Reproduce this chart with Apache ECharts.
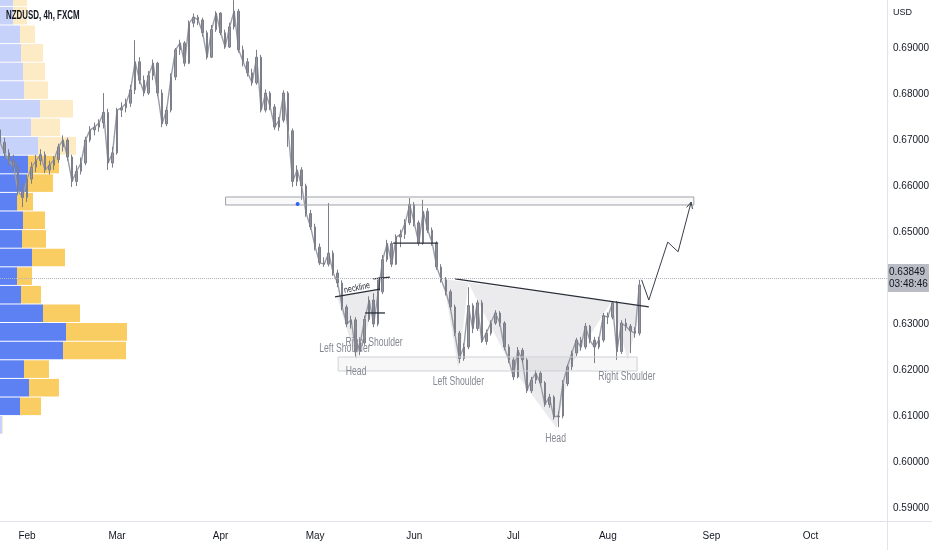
<!DOCTYPE html>
<html><head><meta charset="utf-8">
<script src="https://cdn.jsdelivr.net/npm/echarts@6/dist/echarts.min.js"></script>
<style>html,body{margin:0;padding:0;background:#fff}#chart{width:932px;height:550px}</style>
</head><body><div id="chart"></div>
<script>
// ---------- data ----------
const symbolTitle = 'NZDUSD, 4h, FXCM';
const currencyLabel = 'USD';
const firstTradingDay = '2022-01-24';
const axisTradingDays = 198;
const monthLabels = ['Jan','Feb','Mar','Apr','May','Jun','Jul','Aug','Sep','Oct','Nov','Dec'];
const priceMin = 0.59, priceMax = 0.700435, priceStep = 0.01;
// daily candles [open, close, low, high] from 2022-01-24 (weekdays)
const candles = [
[0.6722,0.6695,0.6680,0.6730],[0.6695,0.6672,0.6660,0.6705],[0.6672,0.6655,0.6645,0.6680],[0.6655,0.6641,0.6630,0.6668],
[0.6641,0.6590,0.6580,0.6650],[0.6590,0.6575,0.6554,0.6605],[0.6575,0.6615,0.6565,0.6625],[0.6615,0.6641,0.6605,0.6652],
[0.6641,0.6655,0.6630,0.6668],[0.6655,0.6668,0.6645,0.6680],[0.6668,0.6635,0.6628,0.6675],[0.6635,0.6645,0.6625,0.6655],
[0.6645,0.6657,0.6635,0.6665],[0.6657,0.6685,0.6650,0.6692],[0.6685,0.6700,0.6675,0.6710],[0.6700,0.6663,0.6655,0.6705],
[0.6663,0.6610,0.6598,0.6668],[0.6610,0.6632,0.6600,0.6645],[0.6632,0.6650,0.6625,0.6662],[0.6650,0.6700,0.6645,0.6707],
[0.6700,0.6722,0.6695,0.6730],[0.6722,0.6728,0.6710,0.6738],[0.6728,0.6737,0.6718,0.6745],[0.6737,0.6760,0.6725,0.6802],
[0.6760,0.6650,0.6635,0.6768],[0.6650,0.6672,0.6640,0.6685],[0.6672,0.6765,0.6668,0.6770],[0.6765,0.6770,0.6750,0.6782],
[0.6770,0.6780,0.6760,0.6790],[0.6780,0.6809,0.6772,0.6820],[0.6809,0.6870,0.6800,0.6917],[0.6870,0.6830,0.6822,0.6880],
[0.6830,0.6802,0.6795,0.6840],[0.6802,0.6840,0.6798,0.6850],[0.6840,0.6867,0.6830,0.6875],[0.6867,0.6802,0.6795,0.6870],
[0.6802,0.6735,0.6728,0.6810],[0.6735,0.6765,0.6730,0.6772],[0.6765,0.6837,0.6760,0.6845],[0.6837,0.6896,0.6830,0.6900],
[0.6896,0.6911,0.6885,0.6918],[0.6911,0.6867,0.6860,0.6915],[0.6867,0.6954,0.6865,0.6960],[0.6954,0.6967,0.6945,0.6975],
[0.6967,0.6961,0.6950,0.6972],[0.6961,0.6933,0.6925,0.6966],[0.6933,0.6880,0.6875,0.6938],[0.6880,0.6940,0.6878,0.6950],
[0.6940,0.6976,0.6935,0.6980],[0.6976,0.6933,0.6928,0.6978],[0.6933,0.6902,0.6898,0.6940],[0.6902,0.6946,0.6900,0.6955],
[0.6946,0.6980,0.6940,0.7004],[0.6980,0.6896,0.6890,0.6985],[0.6896,0.6870,0.6860,0.6905],[0.6870,0.6846,0.6838,0.6878],
[0.6846,0.6824,0.6818,0.6855],[0.6824,0.6880,0.6820,0.6896],[0.6880,0.6765,0.6760,0.6885],[0.6765,0.6802,0.6760,0.6810],
[0.6802,0.6772,0.6765,0.6806],[0.6772,0.6728,0.6722,0.6778],[0.6728,0.6743,0.6720,0.6750],[0.6743,0.6802,0.6738,0.6808],
[0.6802,0.6720,0.6685,0.6806],[0.6720,0.6610,0.6598,0.6725],[0.6610,0.6635,0.6600,0.6645],[0.6635,0.6600,0.6570,0.6641],
[0.6600,0.6540,0.6533,0.6605],[0.6540,0.6511,0.6505,0.6548],[0.6511,0.6467,0.6460,0.6518],[0.6467,0.6433,0.6428,0.6475],
[0.6433,0.6430,0.6424,0.6445],[0.6430,0.6454,0.6425,0.6563],[0.6454,0.6411,0.6405,0.6460],[0.6411,0.6389,0.6380,0.6418],
[0.6389,0.6337,0.6330,0.6395],[0.6337,0.6300,0.6293,0.6342],[0.6300,0.6309,0.6290,0.6318],[0.6309,0.6240,0.6228,0.6315],
[0.6240,0.6259,0.6232,0.6268],[0.6259,0.6310,0.6255,0.6318],[0.6310,0.6352,0.6305,0.6360],[0.6352,0.6300,0.6293,0.6367],
[0.6300,0.6370,0.6295,0.6396],[0.6370,0.6440,0.6365,0.6450],[0.6440,0.6475,0.6435,0.6483],[0.6475,0.6430,0.6424,0.6480],
[0.6430,0.6489,0.6428,0.6495],[0.6489,0.6495,0.6467,0.6505],[0.6495,0.6520,0.6485,0.6528],[0.6520,0.6560,0.6515,0.6574],
[0.6560,0.6520,0.6512,0.6565],[0.6520,0.6476,0.6470,0.6525],[0.6476,0.6545,0.6472,0.6570],[0.6545,0.6504,0.6498,0.6552],
[0.6504,0.6476,0.6470,0.6510],[0.6476,0.6424,0.6418,0.6480],[0.6424,0.6396,0.6390,0.6430],[0.6396,0.6370,0.6362,0.6402],
[0.6370,0.6337,0.6330,0.6375],[0.6337,0.6280,0.6274,0.6342],[0.6280,0.6225,0.6215,0.6285],[0.6225,0.6250,0.6220,0.6258],
[0.6250,0.6340,0.6245,0.6380],[0.6340,0.6290,0.6280,0.6345],[0.6290,0.6346,0.6285,0.6352],[0.6346,0.6262,0.6259,0.6352],
[0.6262,0.6280,0.6255,0.6288],[0.6280,0.6302,0.6275,0.6308],[0.6302,0.6324,0.6298,0.6330],[0.6324,0.6302,0.6295,0.6328],
[0.6302,0.6250,0.6243,0.6306],[0.6250,0.6222,0.6215,0.6256],[0.6222,0.6185,0.6178,0.6228],[0.6185,0.6243,0.6182,0.6250],
[0.6243,0.6222,0.6215,0.6248],[0.6222,0.6155,0.6150,0.6226],[0.6155,0.6178,0.6150,0.6185],[0.6178,0.6193,0.6170,0.6200],
[0.6193,0.6172,0.6165,0.6198],[0.6172,0.6125,0.6120,0.6176],[0.6125,0.6141,0.6118,0.6148],[0.6141,0.6098,0.6092,0.6145],
[0.6098,0.6100,0.6076,0.6110],[0.6100,0.6170,0.6095,0.6178],[0.6170,0.6207,0.6165,0.6212],[0.6207,0.6237,0.6200,0.6242],
[0.6237,0.6265,0.6230,0.6270],[0.6265,0.6250,0.6242,0.6272],[0.6250,0.6295,0.6245,0.6302],[0.6295,0.6265,0.6258,0.6298],
[0.6265,0.6250,0.6215,0.6272],[0.6250,0.6265,0.6245,0.6272],[0.6265,0.6318,0.6260,0.6324],[0.6318,0.6315,0.6300,0.6325],
[0.6315,0.6346,0.6310,0.6350],[0.6346,0.6240,0.6222,0.6350],[0.6240,0.6302,0.6235,0.6308],[0.6302,0.6295,0.6285,0.6312],
[0.6295,0.6285,0.6237,0.6300],[0.6285,0.6280,0.6270,0.6293],[0.6280,0.63849,0.6275,0.6396]
];
const lastPrice = 0.63849;
const barCountdown = '03:48:46';

// volume profile (bottom -> top)
const vpEdges = [0.60604,0.61009,0.61413,0.61817,0.62222,0.62626,0.63030,0.63435,0.63839,0.64243,0.64648,0.65052,0.65457,
                 0.65861,0.66265,0.66670,0.67074,0.67478,0.67883,0.68287,0.68691,0.69096,0.69500,0.69904,0.70300];
const vpUpVolume   = [2,20,29,24,63,66,43,21,17,32,22,23,17,26,28,38,31,40,24,23,21,20,13,13];
const vpDownVolume = [1,21,30,25,63,61,37,20,15,33,24,22,16,27,31,38,29,33,24,22,22,15,14,14];
const vpValueAreaLow = 0.61009, vpValueAreaHigh = 0.66670;

// drawings, in [trading-day index, price]
const shadePolygons = [
  [[74.8,0.6361],[84.4,0.6376],[79.1,0.6222]],
  [[98.4,0.6398],[101.8,0.6204],[104.0,0.6389],[113.8,0.6204],[123.6,0.6074],[126.7,0.6209],[135.9,0.6350],[139.4,0.6222],[142.5,0.6339]]
];
const trendLines = [
  [[101.1,0.6398],[144.1,0.6337]],
  [[74.4,0.6359],[84.4,0.6376]],
  [[82.9,0.6398],[86.6,0.6402]],
  [[84.2,0.6401],[84.2,0.6373]],
  [[81.1,0.6324],[85.5,0.6324]],
  [[87.3,0.6476],[97.3,0.6476]]
];
const zoneBoxes = [
  [[50.1,0.65761],[154.1,0.65587]],
  [[75.1,0.62283],[141.5,0.61978]]
];
const projectionPath = [[142.5,0.6396],[144.1,0.6352],[148.3,0.6478],[150.6,0.6457],[153.5,0.6565]];
const markerDot = [66.1,0.6561];
const patternLabels = [
  ['Left Shoulder',76.6,0.62457],['Right Shoulder',83.1,0.62587],['Head',79.1,0.61957],
  ['Left Shoulder',101.8,0.61739],['Head',123.4,0.60500],['Right Shoulder',139.2,0.61848]
];
const necklineLabel = ['neckline',79.3,0.63783];

// ---------- chart ----------
const FONT = "'Liberation Sans',Arial,sans-serif";
const NARROW = 0.72;
const dates = [];
{
  const d = new Date(firstTradingDay + 'T00:00:00Z');
  while (dates.length < axisTradingDays) {
    const w = d.getUTCDay();
    if (w !== 0 && w !== 6) dates.push(d.toISOString().slice(0,10));
    d.setUTCDate(d.getUTCDate() + 1);
  }
}
const isMonthStart = i => i > 0 && dates[i].slice(5,7) !== dates[i-1].slice(5,7);

const chart = echarts.init(document.getElementById('chart'), null, {renderer:'canvas'});
const toPts = (pts, api) => pts.map(p => api.coord(p));

const option = {
  animation: false,
  backgroundColor: '#ffffff',
  grid: {left: 0, right: 45, top: 0, height: 508, outerBoundsMode: 'none', containLabel: false},
  xAxis: [
    {type:'category', data: dates, boundaryGap:false, offset:13,
     axisLine:{show:true, onZero:false, lineStyle:{color:'#e0e3eb'}}, axisTick:{show:false}, splitLine:{show:false},
     axisLabel:{interval:(i)=>isMonthStart(i), formatter:(v)=>monthLabels[+v.slice(5,7)-1],
                color:'#131722', fontSize:10, margin:10, fontFamily:FONT}},
    {type:'value', min:0, max:887, show:false},
    {type:'value', min:0, max:axisTradingDays-1, show:false}
  ],
  yAxis: [{type:'value', position:'right', min:priceMin, max:priceMax, interval:priceStep,
    axisLine:{show:true, onZero:false, lineStyle:{color:'#e0e3eb'}}, axisTick:{show:false}, splitLine:{show:false},
    axisLabel:{color:'#131722', fontSize:10, margin:6, fontFamily:FONT, showMaxLabel:false,
      formatter:(v)=> (v > 0.695) ? '' : v.toFixed(5)}}],
  graphic: [
    {type:'text', x:6, y:16, scaleX:0.66, z:100, style:{text:symbolTitle, fill:'#131722', font:'bold 12px '+FONT, verticalAlign:'middle'}},
    {type:'text', x:893, y:13, z:100, style:{text:currencyLabel, fill:'#131722', font:'9px '+FONT, verticalAlign:'middle'}},
    {type:'line', z:100, shape:{x1:887, y1:521.5, x2:932, y2:521.5}, style:{stroke:'#e0e3eb', lineWidth:1}},
    {type:'line', z:100, shape:{x1:887.5, y1:508, x2:887.5, y2:550}, style:{stroke:'#e0e3eb', lineWidth:1}}
  ],
  series: [
    {type:'line', xAxisIndex:0, yAxisIndex:0, data:[], z:1, silent:true,
     markLine:{symbol:'none', silent:true, animation:false,
       lineStyle:{color:'#b2b5be', type:'dotted', width:1},
       label:{position:'end', distance:1, formatter: lastPrice.toFixed(5)+'\n'+barCountdown,
              backgroundColor:'#b9bcc4', color:'#131722', fontSize:10, lineHeight:12, padding:[2,1],
              fontFamily:FONT},
       emphasis:{disabled:true},
       data:[{yAxis:lastPrice}]}},
    {type:'custom', name:'volume profile', xAxisIndex:1, yAxisIndex:0, z:2, silent:true,
     data: vpUpVolume.map((u,i)=>[u, vpEdges[i], vpDownVolume[i], vpEdges[i+1]]),
     encode:{x:0, y:1},
     renderItem:(params, api)=>{
       const up=api.value(0), lo=api.value(1), dn=api.value(2), hi=api.value(3);
       const pLo=api.coord([0,lo]), pHi=api.coord([0,hi]);
       const xUp=api.coord([up,lo])[0], xAll=api.coord([up+dn,lo])[0];
       const inVA = lo >= vpValueAreaLow - 1e-6 && hi <= vpValueAreaHigh + 1e-6;
       const y=pHi[1]+0.5, h=pLo[1]-pHi[1]-1;
       return {type:'group', children:[
         {type:'rect', shape:{x:pLo[0], y:y, width:xUp-pLo[0], height:h}, style:{fill: inVA?'#5d80f3':'#c7d2fb'}},
         {type:'rect', shape:{x:xUp, y:y, width:xAll-xUp, height:h}, style:{fill: inVA?'#f9cd62':'#fdebc6'}}
       ]};
     }},
    {type:'custom', name:'shading', xAxisIndex:2, yAxisIndex:0, z:2, silent:true,
     data: shadePolygons.map(p=>p[0]), encode:{x:0,y:1},
     renderItem:(params, api)=>({type:'polygon', shape:{points:toPts(shadePolygons[params.dataIndex], api)},
       style:{fill:'rgba(120,123,134,0.15)'}})},
    {type:'line', name:'close path', xAxisIndex:0, yAxisIndex:0, z:3, silent:true, symbol:'none',
     data: candles.map(c=>c[1]), lineStyle:{color:'#9a9da6', width:1.4}},
    {type:'candlestick', name:'NZDUSD', xAxisIndex:0, yAxisIndex:0, z:3, silent:true,
     data: candles, barWidth:2,
     itemStyle:{color:'#9598a1', color0:'#8a8d96', borderColor:'#7c7f89', borderColor0:'#7c7f89', borderWidth:1}},
    {type:'custom', name:'zones', xAxisIndex:2, yAxisIndex:0, z:4, silent:true,
     data: zoneBoxes.map(b=>b[0]), encode:{x:0,y:1},
     renderItem:(params, api)=>{
       const b = zoneBoxes[params.dataIndex];
       const p1=api.coord(b[0]), p2=api.coord(b[1]);
       const first = params.dataIndex === 0;
       return {type:'rect', shape:{x:p1[0], y:Math.min(p1[1],p2[1]), width:p2[0]-p1[0], height:Math.abs(p2[1]-p1[1])},
         style:{fill: first?'rgba(149,152,161,0.06)':'rgba(149,152,161,0.08)', stroke: first?'#9ea2ab':'#cfd1d6', lineWidth:1}};
     }},
    {type:'custom', name:'trend lines', xAxisIndex:2, yAxisIndex:0, z:4, silent:true,
     data: trendLines.map(l=>l[0]), encode:{x:0,y:1},
     renderItem:(params, api)=>({type:'polyline', shape:{points:toPts(trendLines[params.dataIndex], api)},
       style:{stroke:'#2a2e39', lineWidth:1.3, fill:null}})},
    {type:'custom', name:'projection', xAxisIndex:2, yAxisIndex:0, z:4, silent:true,
     data:[projectionPath[0]], encode:{x:0,y:1},
     renderItem:(params, api)=>{
       const pts = toPts(projectionPath, api);
       const a = pts[pts.length-1], b = pts[pts.length-2];
       const ang = Math.atan2(a[1]-b[1], a[0]-b[0]);
       const L = 7, s = 0.45;
       const h1 = [a[0]-L*Math.cos(ang-s), a[1]-L*Math.sin(ang-s)];
       const h2 = [a[0]-L*Math.cos(ang+s), a[1]-L*Math.sin(ang+s)];
       return {type:'group', children:[
         {type:'polyline', shape:{points:pts}, style:{stroke:'#3a3e49', lineWidth:1, fill:null}},
         {type:'polyline', shape:{points:[h1,a,h2]}, style:{stroke:'#3a3e49', lineWidth:1, fill:null}}
       ]};
     }},
    {type:'custom', name:'marker', xAxisIndex:2, yAxisIndex:0, z:5, silent:true,
     data:[markerDot], encode:{x:0,y:1},
     renderItem:(params, api)=>{const p=api.coord(markerDot);
       return {type:'circle', shape:{cx:p[0], cy:p[1], r:2}, style:{fill:'#2962ff'}};}},
    {type:'custom', name:'labels', xAxisIndex:2, yAxisIndex:0, z:5, silent:true,
     data: patternLabels.map(l=>[l[1],l[2]]), encode:{x:0,y:1},
     renderItem:(params, api)=>{const l=patternLabels[params.dataIndex]; const p=api.coord([l[1],l[2]]);
       return {type:'text', x:p[0], y:p[1], scaleX:NARROW, style:{text:l[0], fill:'#868993', font:'12px '+FONT, align:'center', verticalAlign:'middle'}};}},
    {type:'custom', name:'neckline label', xAxisIndex:2, yAxisIndex:0, z:5, silent:true,
     data:[[necklineLabel[1], necklineLabel[2]]], encode:{x:0,y:1},
     renderItem:(params, api)=>{const p=api.coord([necklineLabel[1], necklineLabel[2]]);
       return {type:'text', x:p[0], y:p[1], rotation:0.2, scaleX:0.8, style:{text:necklineLabel[0], fill:'#2a2e39', font:'9px '+FONT, align:'center', verticalAlign:'middle'}};}}
  ]
};
chart.setOption(option);
</script>
</body></html>
